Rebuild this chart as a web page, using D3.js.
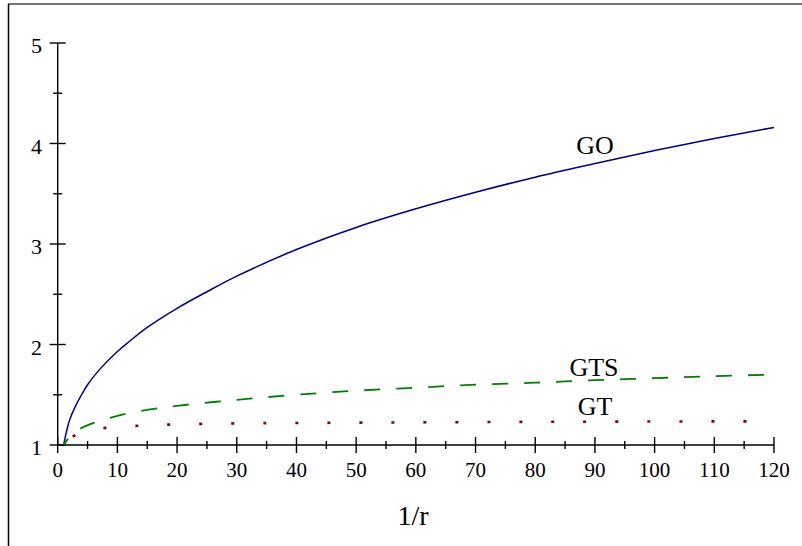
<!DOCTYPE html>
<html>
<head>
<meta charset="utf-8">
<script src="https://cdn.jsdelivr.net/npm/d3@7"></script>
<style>
  body { margin: 0; background: #fff; }
  text { font-family: "Liberation Serif", "Times New Roman", serif; fill: #000; }
</style>
</head>
<body>
<div id="chart"></div>
<script>
// values
var goX  = [1, 1.5, 2, 3, 4, 5, 7, 10, 12, 15, 20, 25, 30, 40, 50, 60, 70, 80, 90, 100, 110, 120];
var goY  = [1, 1.14, 1.25, 1.39, 1.50, 1.60, 1.75, 1.93, 2.03, 2.17, 2.36, 2.525, 2.68, 2.945, 3.165, 3.35, 3.515, 3.665, 3.80, 3.93, 4.05, 4.16];
var gtsX = [1, 2, 4, 6, 10, 15, 20, 30, 40, 50, 60, 70, 80, 90, 100, 110, 120];
var gtsY = [1, 1.08, 1.17, 1.22, 1.29, 1.35, 1.39, 1.45, 1.50, 1.54, 1.57, 1.60, 1.62, 1.645, 1.665, 1.685, 1.70];
var gtX  = [1, 2, 3, 5, 8, 13, 20, 30, 50, 70, 90, 120];
var gtY  = [1, 1.06, 1.10, 1.14, 1.17, 1.19, 1.205, 1.215, 1.222, 1.228, 1.232, 1.236];

var xMajor = [0, 10, 20, 30, 40, 50, 60, 70, 80, 90, 100, 110, 120];
var yMajor = [1, 2, 3, 4, 5];

var width = 802, height = 546;

var svg = d3.select('#chart').append('svg')
    .attr('width', width)
    .attr('height', height);

// frame: grey top edge, black left edge
svg.append('line').attr('x1', 8).attr('x2', width).attr('y1', 4).attr('y2', 4)
    .attr('stroke', '#777').attr('stroke-width', 2);
svg.append('line').attr('x1', 8.5).attr('x2', 8.5).attr('y1', 4).attr('y2', height)
    .attr('stroke', '#000').attr('stroke-width', 1.5);

var x = d3.scaleLinear().domain([0, 120]).range([57.7, 774]);
var y = d3.scaleLinear().domain([1, 5]).range([445, 43]);

var axes = svg.append('g').attr('stroke', '#000').attr('stroke-width', 1.4);

// axis lines
axes.append('line').attr('x1', x(0)).attr('x2', x(120)).attr('y1', y(1)).attr('y2', y(1));
axes.append('line').attr('x1', x(0)).attr('x2', x(0)).attr('y1', y(1)).attr('y2', y(5));

// x ticks (major + minor, both sides of the line)
d3.range(0, 121, 5).forEach(function(v) {
  var big = v % 10 === 0;
  var s = big ? 8 : 4;
  axes.append('line').attr('x1', x(v)).attr('x2', x(v))
      .attr('y1', y(1) - s).attr('y2', y(1) + s);
});
// y ticks
d3.range(1, 5.01, 0.5).forEach(function(v) {
  var big = Math.abs(v - Math.round(v)) < 1e-6;
  var s = big ? 8 : 4.5;
  axes.append('line').attr('x1', x(0) - s).attr('x2', x(0) + s)
      .attr('y1', y(v)).attr('y2', y(v));
});

svg.append('g').selectAll('text').data(xMajor).join('text')
    .attr('x', function(d) { return x(d); })
    .attr('y', 477)
    .attr('text-anchor', 'middle')
    .attr('font-size', 21)
    .text(function(d) { return d; });

svg.append('g').selectAll('text').data(yMajor).join('text')
    .attr('x', 42)
    .attr('y', function(d) { return y(d) + 10; })
    .attr('text-anchor', 'end')
    .attr('font-size', 22)
    .text(function(d) { return d; });

svg.append('text').attr('x', 413).attr('y', 525)
    .attr('text-anchor', 'middle').attr('font-size', 28)
    .text('1/r');

var line = d3.line()
    .x(function(d) { return x(d[0]); })
    .y(function(d) { return y(d[1]); })
    .curve(d3.curveCatmullRom.alpha(0.5));

svg.append('path')
    .datum(d3.zip(goX, goY))
    .attr('d', line)
    .attr('fill', 'none')
    .attr('stroke', '#000080')
    .attr('stroke-width', 1.5);

svg.append('path')
    .datum(d3.zip(gtsX, gtsY))
    .attr('d', line)
    .attr('fill', 'none')
    .attr('stroke', '#008000')
    .attr('stroke-width', 1.8)
    .attr('stroke-dasharray', '16,16')
    .attr('stroke-dashoffset', 8.7);

svg.append('path')
    .datum(d3.zip(gtX, gtY))
    .attr('d', line)
    .attr('fill', 'none')
    .attr('stroke', '#8b0000')
    .attr('stroke-width', 2.6)
    .attr('stroke-dasharray', '3,29')
    .attr('stroke-dashoffset', 19.5);

// curve labels
svg.append('text').attr('x', 595).attr('y', 154).attr('text-anchor', 'middle')
    .attr('font-size', 26).text('GO');
svg.append('text').attr('x', 594).attr('y', 376).attr('text-anchor', 'middle')
    .attr('font-size', 26).text('GTS');
svg.append('text').attr('x', 595).attr('y', 415).attr('text-anchor', 'middle')
    .attr('font-size', 26).text('GT');
</script>
</body>
</html>
